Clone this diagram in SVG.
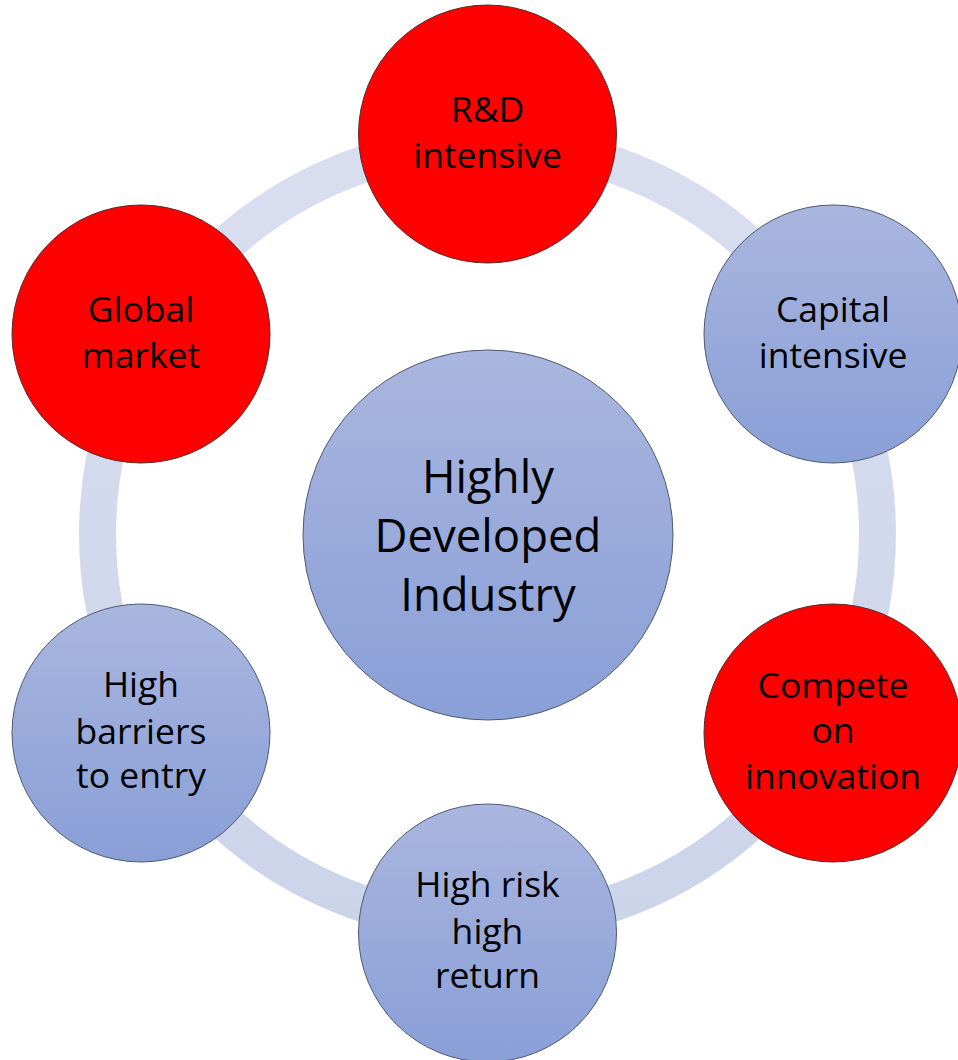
<svg xmlns="http://www.w3.org/2000/svg" width="958" height="1060" viewBox="0 0 958 1060">
  <defs>
    <linearGradient id="blueGrad" x1="0" y1="0" x2="0" y2="1">
      <stop offset="0" stop-color="#A9B6DF"/>
      <stop offset="1" stop-color="#899FD7"/>
    </linearGradient>
    <linearGradient id="ringGrad" x1="0" y1="0" x2="0" y2="1">
      <stop offset="0" stop-color="#D9DEEF"/>
      <stop offset="1" stop-color="#CCD4EA"/>
    </linearGradient>
  </defs>
  <style>
    .blue { fill: url(#blueGrad); stroke: #4F5A6E; stroke-width: 1; }
    .red { fill: #FF0000; stroke: #5A2A2A; stroke-width: 1; }
    .lbl { font-family: "Open Sans", "Noto Sans", sans-serif; font-size: 35.5px; fill: #000; text-anchor: middle; }
    .big { font-family: "Open Sans", "Noto Sans", sans-serif; font-size: 45.5px; fill: #000; text-anchor: middle; }
  </style>
  <rect width="958" height="1060" fill="#FFFFFF"/>
  <g id="connectors">
    <circle cx="487.5" cy="534" r="390" fill="none" stroke="url(#ringGrad)" stroke-width="37"/>
  </g>
  <g id="node-center">
    <circle class="blue" cx="488" cy="535" r="185"/>
    <text class="big" x="488" y="493">Highly</text>
    <text class="big" x="488" y="552">Developed</text>
    <text class="big" x="488" y="611">Industry</text>
  </g>
  <g id="node-rd">
    <circle class="red" cx="487.5" cy="134" r="129"/>
    <text class="lbl" x="487.5" y="121.5">R&amp;D</text>
    <text class="lbl" x="487.5" y="168">intensive</text>
  </g>
  <g id="node-capital">
    <circle class="blue" cx="833" cy="334" r="129"/>
    <text class="lbl" x="833" y="321.5">Capital</text>
    <text class="lbl" x="833" y="368">intensive</text>
  </g>
  <g id="node-compete">
    <circle class="red" cx="833" cy="733" r="129"/>
    <text class="lbl" x="833" y="698">Compete</text>
    <text class="lbl" x="833" y="743">on</text>
    <text class="lbl" x="833" y="789">innovation</text>
  </g>
  <g id="node-risk">
    <circle class="blue" cx="487.5" cy="933" r="129"/>
    <text class="lbl" x="487.5" y="897">High risk</text>
    <text class="lbl" x="487.5" y="944">high</text>
    <text class="lbl" x="487.5" y="988">return</text>
  </g>
  <g id="node-barriers">
    <circle class="blue" cx="141" cy="733" r="129"/>
    <text class="lbl" x="141" y="697">High</text>
    <text class="lbl" x="141" y="744">barriers</text>
    <text class="lbl" x="141" y="788">to entry</text>
  </g>
  <g id="node-global">
    <circle class="red" cx="141" cy="334" r="129"/>
    <text class="lbl" x="141" y="321.5">Global</text>
    <text class="lbl" x="141" y="368">market</text>
  </g>
</svg>
